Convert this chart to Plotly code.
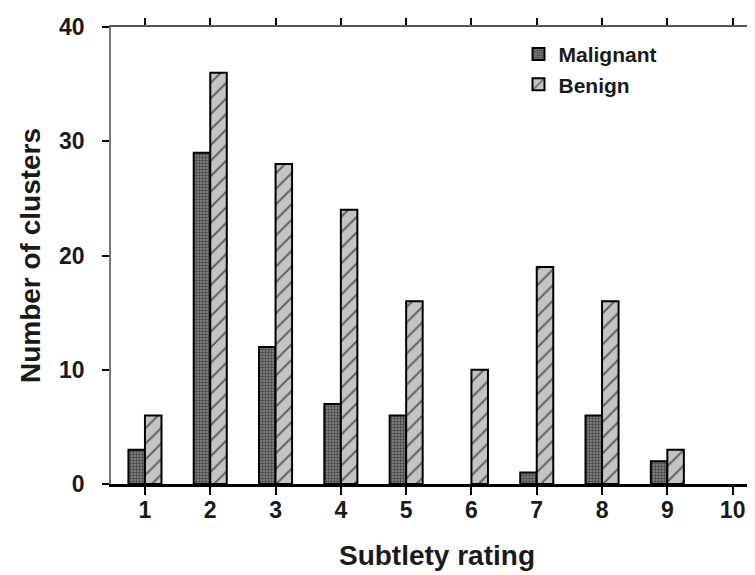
import plotly.graph_objects as go

ratings = [1, 2, 3, 4, 5, 6, 7, 8, 9, 10]
malignant = [3, 29, 12, 7, 6, 0, 1, 6, 2, 0]
benign = [6, 36, 28, 24, 16, 10, 19, 16, 3, 0]
y_ticks = [0, 10, 20, 30, 40]

FONT = "Liberation Sans, Arial, sans-serif"
TXT = "#1a1a1a"

def nz(vals):
    # zero-height bars are not drawn in the reference
    return [v if v else None for v in vals]

fig = go.Figure()
fig.add_trace(go.Bar(
    x=ratings, y=nz(malignant), name="Malignant", legendgroup="m",
    marker=dict(color="#7a7a7a",
                line=dict(color="black", width=2),
                pattern=dict(shape="+", fgcolor="black", bgcolor="#7a7a7a",
                             size=3, solidity=0.35)),
))
fig.add_trace(go.Bar(
    x=ratings, y=nz(benign), name="Benign", legendgroup="b",
    marker=dict(color="#c4c4c4",
                line=dict(color="black", width=2),
                pattern=dict(shape="/", fgcolor="black", bgcolor="#c4c4c4",
                             size=11, solidity=0.18)),
))
# empty trace so the top (mirror) axis is drawn
fig.add_trace(go.Scatter(x=[], y=[], xaxis="x2", showlegend=False, hoverinfo="skip"))

axis_font = dict(family=FONT, size=23, color=TXT, weight="bold")
title_font = dict(family=FONT, size=28, color=TXT, weight="bold")

fig.update_layout(
    width=755, height=575,
    margin=dict(l=103, r=0, t=19, b=99),
    paper_bgcolor="white", plot_bgcolor="white",
    barmode="group", bargap=0.494, bargroupgap=0,
    font=dict(family=FONT, color=TXT),
    showlegend=True,
    legend=dict(x=0.625, y=0.985, xanchor="left", yanchor="top",
                font=dict(family=FONT, size=21, color=TXT, weight="bold"),
                bgcolor="rgba(0,0,0,0)", traceorder="normal",
                tracegroupgap=5),
    xaxis=dict(range=[0.48, 10.465], tickvals=ratings,
               ticks="outside", ticklen=8, tickwidth=2, tickcolor="black",
               showline=True, linecolor="black", linewidth=2.5,
               showgrid=False, zeroline=False, tickfont=axis_font,
               ticklabelstandoff=-4,
               title=dict(text="Subtlety rating", font=title_font, standoff=24)),
    xaxis2=dict(overlaying="x", side="top", range=[0.48, 10.465], tickvals=ratings,
                ticks="outside", ticklen=7, tickwidth=2, tickcolor="black",
                showline=True, linecolor="#555555", linewidth=1.5,
                showgrid=False, zeroline=False, showticklabels=False),
    yaxis=dict(range=[0, 40], tickvals=y_ticks,
               ticks="outside", ticklen=7, tickwidth=2, tickcolor="black",
               showline=True, linecolor="#777777", linewidth=1.5,
               showgrid=False, zeroline=False, tickfont=axis_font,
               ticklabelstandoff=13,
               title=dict(text="Number of clusters", font=title_font, standoff=10)),
)

fig.write_html("out.html")
